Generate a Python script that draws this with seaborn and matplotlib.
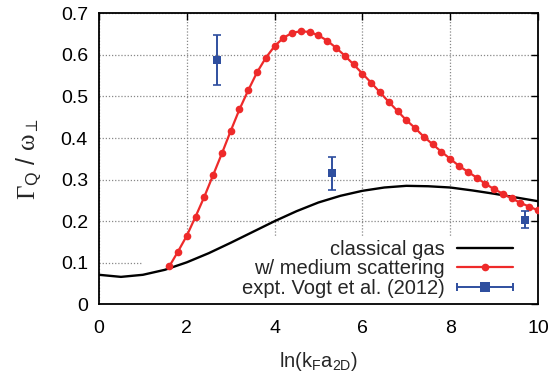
import numpy as np
import pandas as pd
import matplotlib
matplotlib.use("Agg")
import matplotlib.pyplot as plt
import seaborn as sns
from matplotlib.lines import Line2D
from matplotlib.patches import Rectangle
from matplotlib.legend_handler import HandlerLine2D, HandlerTuple

# ---- data ----
classical_x = [0.0, 0.5, 1.0, 1.5, 2.0, 2.5, 3.0, 3.5, 4.0, 4.5, 5.0, 5.5, 6.0, 6.5,
               7.0, 7.5, 8.0, 8.5, 9.0, 9.5, 10.0]
classical_y = [0.071, 0.066, 0.071, 0.083, 0.101, 0.123, 0.148, 0.174, 0.200, 0.224,
               0.245, 0.261, 0.273, 0.281, 0.285, 0.284, 0.281, 0.274, 0.266, 0.257, 0.248]

medium_x = [1.6, 1.8, 2.0, 2.2, 2.4, 2.6, 2.8, 3.0, 3.2, 3.4, 3.6, 3.8, 4.0, 4.2, 4.4,
            4.6, 4.8, 5.0, 5.2, 5.4, 5.6, 5.8, 6.0, 6.2, 6.4, 6.6, 6.8, 7.0, 7.2, 7.4,
            7.6, 7.8, 8.0, 8.2, 8.4, 8.6, 8.8, 9.0, 9.2, 9.4, 9.6, 9.8, 10.0]
medium_y = [0.091, 0.127, 0.165, 0.211, 0.259, 0.311, 0.363, 0.417, 0.469, 0.515, 0.558,
            0.593, 0.621, 0.641, 0.653, 0.657, 0.655, 0.647, 0.634, 0.617, 0.598, 0.577,
            0.555, 0.533, 0.510, 0.487, 0.465, 0.443, 0.424, 0.403, 0.385, 0.367, 0.350,
            0.333, 0.319, 0.305, 0.290, 0.277, 0.266, 0.255, 0.244, 0.235, 0.226]

expt_x = [2.68, 5.30, 9.70]
expt_y = [0.587, 0.315, 0.204]
expt_err = [0.060, 0.040, 0.020]

labels = ["classical gas", "w/ medium scattering", "expt. Vogt et al. (2012)"]
xticks = [0, 2, 4, 6, 8, 10]
yticks = [0, 0.1, 0.2, 0.3, 0.4, 0.5, 0.6, 0.7]

# ---- style ----
sns.set_theme(style="white")
plt.rcParams["font.family"] = ["Liberation Sans", "DejaVu Sans"]
plt.rcParams["mathtext.fontset"] = "custom"
plt.rcParams["mathtext.rm"] = "Liberation Serif"
plt.rcParams["mathtext.it"] = "Liberation Serif"
plt.rcParams["mathtext.sf"] = "Liberation Sans"

red = "#ee2a2a"
blue = "#2f4f9f"

fig = plt.figure(figsize=(5.54, 3.75), dpi=100)
pos = [0.1787, 0.1885, 0.7924, 0.776]

# grid axes underneath
axg = fig.add_axes(pos, zorder=0)
ax = fig.add_axes(pos, zorder=1, sharex=axg, sharey=axg)
ax.patch.set_visible(False)

axg.set_xticks(xticks)
axg.set_yticks(yticks)
axg.grid(True, color="#888888", linestyle=(0, (1, 1.5)), linewidth=0.9)
axg.tick_params(length=0, labelbottom=False, labelleft=False)
for s in axg.spines.values():
    s.set_visible(False)

# white key box hiding grid
ax.add_patch(Rectangle((0.101, 0.0), 0.899, 0.23, transform=ax.transAxes,
                       facecolor="white", edgecolor="none", zorder=1))

df_c = pd.DataFrame({"x": classical_x, "y": classical_y})
df_m = pd.DataFrame({"x": medium_x, "y": medium_y})
df_e = pd.DataFrame({"x": expt_x, "y": expt_y})

sns.lineplot(data=df_c, x="x", y="y", ax=ax, color="black", linewidth=1.7,
             zorder=3, legend=False)
sns.lineplot(data=df_m, x="x", y="y", ax=ax, color=red, linewidth=1.6,
             marker="o", markersize=5.5, markeredgewidth=0, zorder=4, legend=False)
ax.errorbar(expt_x, expt_y, yerr=expt_err, fmt="none", ecolor=blue,
            elinewidth=1.4, capsize=3, capthick=1.2, zorder=5)
sns.scatterplot(data=df_e, x="x", y="y", ax=ax, color=blue, marker="s", s=40,
                linewidth=0, zorder=6, legend=False)

ax.set_xlim(0, 10)
ax.set_ylim(0, 0.7)
ax.set_xticks(xticks)
ax.set_yticks(yticks)
ax.set_xticklabels([str(t) for t in xticks])
ax.set_yticklabels(["0"] + [f"{t:.1f}" for t in yticks[1:]])
ax.tick_params(direction="in", length=5, width=1, top=True, right=True,
               labelsize=14, colors="black")
ax.tick_params(axis="x", pad=11)
ax.tick_params(axis="y", pad=8)
for s in ax.spines.values():
    s.set_visible(True)
    s.set_color("black")
    s.set_linewidth(1.3)

ax.set_xlabel(r"ln(k$_\mathsf{F}$a$_\mathsf{2D}$)", fontsize=14.5, labelpad=10)
ax.set_ylabel(r"$\Gamma_\mathsf{Q}$ / $\omega_\perp$", fontsize=18, labelpad=12)

# legend
h1 = Line2D([], [], color="black", linewidth=1.7)
h2 = Line2D([], [], color=red, linewidth=1.6, marker="o", markersize=5.5,
            markeredgewidth=0)
h3a = Line2D([], [], color=blue, linewidth=1.4, marker="s", markersize=7.5,
             markeredgewidth=0)
h3b = Line2D([], [], color=blue, linestyle="none", marker="|", markersize=6,
             markeredgewidth=1.4)
leg = ax.legend([h1, h2, (h3a, h3b)], labels, loc="lower right",
                bbox_to_anchor=(0.985, -0.04), frameon=False, markerfirst=False,
                fontsize=14.5, handlelength=2.8, labelspacing=0.02,
                handletextpad=0.6, numpoints=1,
                handler_map={h3b: HandlerLine2D(numpoints=2, marker_pad=0.0),
                             tuple: HandlerTuple(ndivide=1, pad=0)})
for t in leg.get_texts():
    t.set_ha("right")

fig.savefig("out.png", dpi=100)
